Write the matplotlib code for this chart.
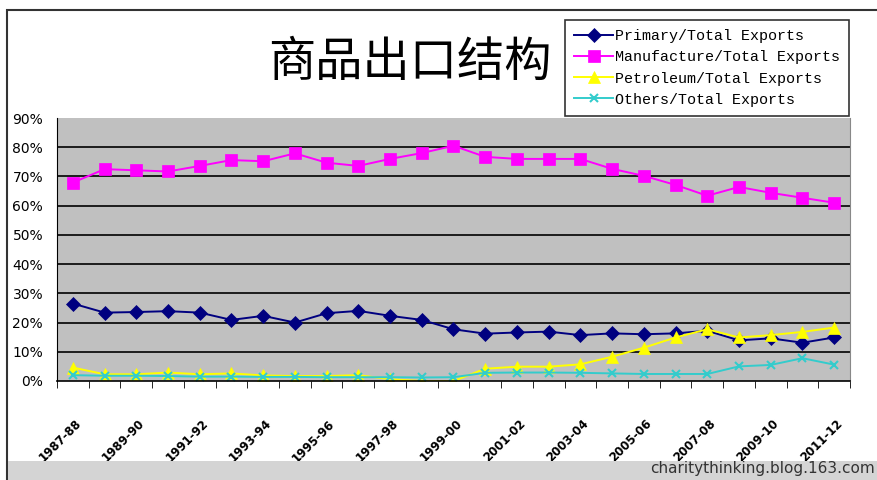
import matplotlib
matplotlib.use("Agg")
import matplotlib.pyplot as plt
import matplotlib.transforms as mtransforms
from matplotlib.patches import Rectangle
import numpy as np

years = ["1987-88", "1988-89", "1989-90", "1990-91", "1991-92", "1992-93", "1993-94",
         "1994-95", "1995-96", "1996-97", "1997-98", "1998-99", "1999-00", "2000-01",
         "2001-02", "2002-03", "2003-04", "2004-05", "2005-06", "2006-07", "2007-08",
         "2008-09", "2009-10", "2010-11", "2011-12"]

primary = [26.5, 23.4, 23.6, 23.9, 23.4, 20.9, 22.3, 20.0, 23.2, 24.0, 22.3, 20.9, 17.7,
           16.2, 16.6, 16.9, 15.7, 16.3, 16.0, 16.3, 17.2, 13.9, 14.6, 13.1, 14.9]
manufacture = [67.9, 72.5, 72.1, 71.7, 73.6, 75.6, 75.2, 77.9, 74.7, 73.6, 76.0, 78.0, 80.5,
               76.7, 76.0, 76.0, 76.0, 72.6, 70.2, 67.1, 63.4, 66.4, 64.4, 62.7, 61.0]
petroleum = [4.6, 2.3, 2.3, 2.9, 2.3, 2.6, 1.9, 1.7, 1.7, 2.0, 0.6, 0.0, 0.0,
             4.2, 4.9, 4.9, 5.7, 8.3, 11.4, 14.9, 17.7, 14.9, 15.7, 16.8, 18.3]
others = [2.0, 1.8, 1.8, 1.7, 1.5, 1.5, 1.4, 1.4, 1.3, 1.3, 1.3, 1.2, 1.3,
          2.8, 2.9, 2.9, 2.8, 2.6, 2.4, 2.4, 2.4, 5.0, 5.5, 7.8, 5.6]

series = [
    ("Primary/Total Exports", primary, "#000080", "D", 7),
    ("Manufacture/Total Exports", manufacture, "#FF00FF", "s", 8),
    ("Petroleum/Total Exports", petroleum, "#FFFF00", "^", 8),
    ("Others/Total Exports", others, "#33CCCC", "x", 6),
]

fig = plt.figure(figsize=(8.78, 4.8), dpi=100)
ax = fig.add_axes([57/878, 1-381/480, (850-57)/878, (381-118)/480])

# outer frame and bottom band
fig.add_artist(Rectangle((7/878, 0), 1, 1-10/480, transform=fig.transFigure,
                         fill=False, edgecolor="#333333", linewidth=1.5))
fig.add_artist(Rectangle((8/878, 0), 1, 19/480, transform=fig.transFigure,
                         facecolor="#d4d4d4", edgecolor="none"))
fig.text(0.997, 0.008, "charitythinking.blog.163.com", ha="right", va="bottom",
         fontsize=11, color="#333333")

x = np.arange(len(years))
ax.set_facecolor("#c0c0c0")
for lbl, vals, col, mk, ms in series:
    ax.plot(x, np.array(vals) / 100, color=col, marker=mk, markersize=ms,
            linewidth=1.4, label=lbl, markeredgewidth=1.5 if mk == "x" else 0.5,
            markeredgecolor=col)

ax.set_xlim(-0.5, len(years) - 0.5)
ax.set_ylim(0, 0.9)
yt = np.arange(0, 1.0, 0.1)
ax.set_yticks(yt)
ax.set_yticklabels([f"{int(round(v*100))}%" for v in yt], fontsize=10)
for v in yt[1:-1]:
    ax.axhline(v, color="black", linewidth=1.2, zorder=1)
ax.tick_params(axis="y", length=0, pad=10)

ax.set_xticks(np.arange(-0.5, len(years), 1.0), minor=True)
ax.set_xticks(x[::2])
ax.set_xticklabels(years[::2], rotation=45, ha="right", va="top",
                   fontsize=8.5, fontweight="bold")
ax.tick_params(axis="x", which="major", length=0, pad=26)
ax.tick_params(axis="x", which="minor", length=5, direction="out", color="black")
shift = mtransforms.ScaledTranslation(11/100, 0, fig.dpi_scale_trans)
for t in ax.get_xticklabels():
    t.set_transform(t.get_transform() + shift)

ax.spines["top"].set_visible(False)
ax.spines["right"].set_color("#888888")
ax.spines["left"].set_color("black")
ax.spines["bottom"].set_color("black")
ax.spines["bottom"].set_linewidth(1.2)

fig.text(410/878, 1-63/480, "商品出口结构", ha="center", va="center", fontsize=34,
         family=["Noto Sans CJK SC", "DejaVu Sans"])

leg = fig.legend(loc="upper left", bbox_to_anchor=(565/878, 1-20/480),
                 prop={"family": "Liberation Mono", "size": 10.85},
                 frameon=True, fancybox=False, edgecolor="black",
                 handlelength=2.6, handletextpad=0.1, borderpad=0.6,
                 labelspacing=0.48, borderaxespad=0)
leg.get_frame().set_linewidth(1.2)

plt.savefig("out.png", dpi=100)
